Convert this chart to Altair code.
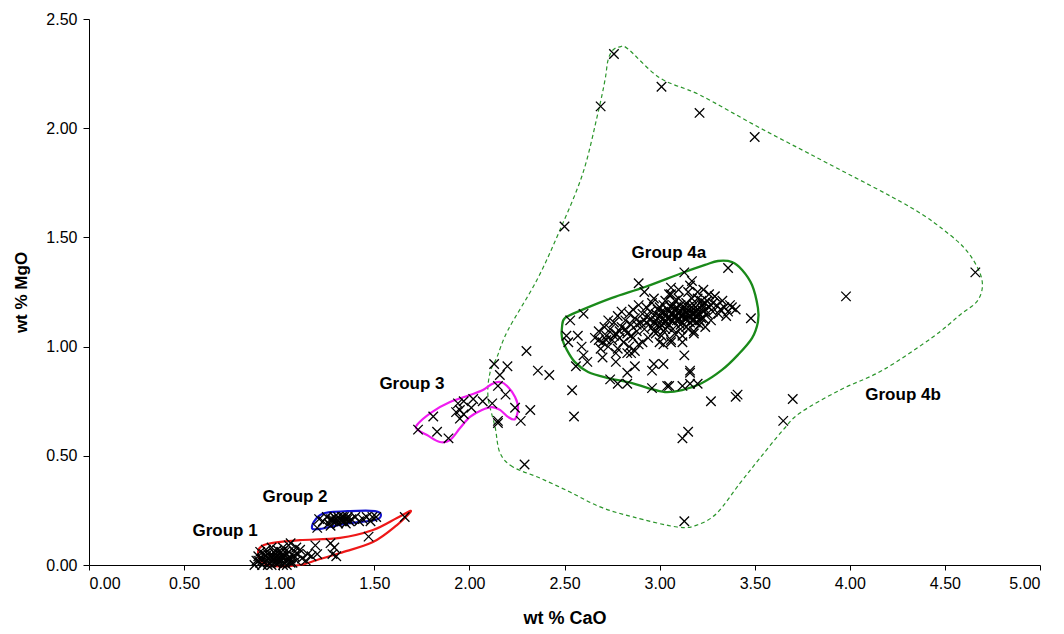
import altair as alt
import pandas as pd

# ---- measured points (wt % CaO, wt % MgO) ----
group1_pts = [
    (0.87, 0.00), (0.88, 0.02), (0.89, 0.04), (0.90, 0.01), (0.91, 0.03), (0.92, 0.05),
    (0.93, 0.02), (0.94, 0.00), (0.95, 0.04), (0.96, 0.02), (0.97, 0.06), (0.98, 0.01),
    (0.99, 0.03), (1.00, 0.05), (1.01, 0.02), (1.02, 0.00), (1.03, 0.04), (1.04, 0.02),
    (1.05, 0.06), (1.06, 0.03), (1.07, 0.01), (1.08, 0.04), (1.09, 0.02), (1.10, 0.05),
    (0.90, 0.06), (0.93, 0.07), (0.96, 0.08), (0.99, 0.07), (1.02, 0.08), (1.05, 0.09),
    (0.94, 0.03), (0.97, 0.03), (1.00, 0.01), (1.03, 0.02), (0.92, 0.01), (0.95, 0.01),
    (0.98, 0.05), (1.01, 0.06), (1.04, 0.05), (1.12, 0.03), (1.15, 0.05), (1.06, 0.10),
    (1.11, 0.07), (1.14, 0.02), (1.17, 0.04), (1.19, 0.09), (1.20, 0.05), (1.27, 0.10),
    (1.29, 0.08), (1.28, 0.05), (1.30, 0.04), (1.47, 0.13), (1.66, 0.22), (1.09, 0.08),
    (0.91, 0.00), (0.94, 0.05), (0.97, 0.04), (1.00, 0.03), (1.03, 0.06), (1.06, 0.01),
    (0.96, 0.00), (0.99, 0.01), (1.02, 0.04), (1.05, 0.03), (0.93, 0.04), (1.08, 0.06),
    (0.89, 0.02), (0.98, 0.03), (1.01, 0.04), (1.04, 0.00),
]
group2_pts = [
    (1.20, 0.17), (1.21, 0.21), (1.23, 0.20), (1.25, 0.22), (1.26, 0.19), (1.27, 0.21),
    (1.28, 0.20), (1.29, 0.22), (1.30, 0.21), (1.31, 0.19), (1.32, 0.21), (1.33, 0.22),
    (1.34, 0.20), (1.35, 0.21), (1.36, 0.22), (1.37, 0.20), (1.38, 0.21), (1.30, 0.20),
    (1.33, 0.20), (1.35, 0.19), (1.31, 0.22), (1.28, 0.21), (1.40, 0.22), (1.42, 0.20),
    (1.44, 0.21), (1.46, 0.22), (1.48, 0.20), (1.49, 0.22), (1.51, 0.22), (1.27, 0.18),
    (1.36, 0.21), (1.34, 0.22),
]
group3_pts = [
    (1.73, 0.62), (1.81, 0.68), (1.83, 0.61), (1.89, 0.58), (1.94, 0.74), (1.95, 0.71),
    (1.97, 0.75), (1.95, 0.67), (2.02, 0.76), (2.01, 0.72), (1.97, 0.69), (1.93, 0.70),
    (2.07, 0.75), (2.12, 0.74), (2.15, 0.82), (2.19, 0.78), (2.24, 0.72), (2.27, 0.66),
    (2.15, 0.66), (2.32, 0.71),
]
group4a_pts = [
    (3.36, 1.36), (3.13, 1.34), (3.17, 1.30), (3.16, 1.28), (2.89, 1.29), (2.92, 1.25),
    (3.06, 1.27), (3.06, 1.24), (3.23, 1.26), (3.29, 1.23), (3.37, 1.19), (3.48, 1.13),
    (2.53, 1.12), (2.60, 1.15), (2.51, 1.05), (2.57, 1.05), (2.52, 1.02), (2.59, 1.00),
    (2.60, 0.96), (2.62, 0.93), (2.56, 0.91), (2.70, 0.95), (2.68, 1.03), (2.77, 0.97),
    (2.77, 0.93), (2.85, 0.97), (2.83, 0.88), (2.87, 0.91), (2.97, 0.92), (2.96, 0.89),
    (3.02, 0.92), (3.16, 0.89), (3.13, 0.96), (3.18, 1.06), (3.06, 1.02), (3.12, 1.02),
    (3.02, 1.01), (2.74, 0.85), (2.78, 0.83), (2.83, 0.83), (2.96, 0.81), (3.04, 0.82),
    (3.05, 0.82), (3.12, 0.82), (3.16, 0.83), (3.20, 0.83), (3.16, 0.88),
    (2.66, 1.04), (2.68, 1.07), (2.70, 1.02), (2.71, 1.09), (2.72, 1.05), (2.73, 1.00),
    (2.74, 1.08), (2.75, 1.03), (2.76, 1.11), (2.77, 1.06), (2.78, 0.99), (2.79, 1.04),
    (2.80, 1.09), (2.81, 1.02), (2.82, 1.12), (2.83, 1.06), (2.84, 1.00), (2.85, 1.10),
    (2.86, 1.04), (2.87, 1.13), (2.88, 1.07), (2.89, 1.01), (2.90, 1.11), (2.69, 0.99),
    (2.73, 1.12), (2.78, 1.14), (2.83, 0.97), (2.87, 0.98),
    (2.91, 1.15), (2.92, 1.08), (2.93, 1.18), (2.94, 1.04), (2.95, 1.12), (2.96, 1.20),
    (2.97, 1.07), (2.98, 1.15), (2.99, 1.10), (3.00, 1.18), (3.01, 1.05), (3.02, 1.13),
    (3.03, 1.21), (3.04, 1.09), (3.05, 1.16), (3.06, 1.12), (3.07, 1.19), (3.08, 1.06),
    (3.09, 1.14), (3.10, 1.22), (3.11, 1.10), (3.12, 1.17), (3.13, 1.13), (3.14, 1.20),
    (3.15, 1.08), (3.16, 1.16), (3.17, 1.12), (3.18, 1.19), (3.19, 1.14), (3.20, 1.22),
    (3.21, 1.10), (3.22, 1.17), (3.23, 1.13), (3.24, 1.20), (3.25, 1.15), (3.26, 1.18),
    (3.27, 1.12), (3.28, 1.16), (3.30, 1.19), (3.32, 1.17), (3.34, 1.18), (3.36, 1.16),
    (3.38, 1.18), (3.40, 1.17), (3.33, 1.21), (3.29, 1.23),
    (2.95, 1.16), (2.97, 1.22), (2.99, 1.13), (3.00, 1.09), (3.01, 1.16), (3.02, 1.07),
    (3.03, 1.11), (3.04, 1.17), (3.05, 1.10), (3.06, 1.15), (3.07, 1.08), (3.08, 1.17),
    (3.09, 1.12), (3.10, 1.16), (3.11, 1.14), (3.12, 1.11), (3.13, 1.18), (3.14, 1.13),
    (3.15, 1.15), (3.16, 1.11), (3.17, 1.18), (3.18, 1.15), (3.19, 1.11), (3.20, 1.17),
    (3.21, 1.15), (3.22, 1.13), (3.05, 1.24), (3.10, 1.26), (3.15, 1.25), (3.20, 1.25),
    (3.12, 1.05), (3.18, 1.07), (3.24, 1.09), (3.00, 1.02), (3.06, 1.03), (2.93, 1.11),
    (2.96, 1.09), (3.25, 1.21), (3.27, 1.19), (3.23, 1.16), (3.14, 1.09), (3.08, 1.21),
    (3.02, 1.19), (2.98, 1.06), (2.91, 1.02), (3.11, 1.19), (3.17, 1.22), (3.22, 1.21),
    (3.26, 1.24), (3.31, 1.15), (3.35, 1.14), (2.86, 1.17), (2.89, 1.19), (2.84, 1.15),
    (2.80, 1.16),
    (2.98, 1.12), (3.00, 1.14), (3.02, 1.16), (3.04, 1.13), (3.06, 1.18), (3.08, 1.14),
    (3.10, 1.12), (3.12, 1.14), (3.14, 1.16), (3.16, 1.14), (3.18, 1.12), (3.20, 1.14),
    (3.22, 1.19), (3.24, 1.17), (3.01, 1.10), (3.03, 1.15), (3.05, 1.13), (3.07, 1.15),
    (3.09, 1.18), (3.11, 1.16), (3.13, 1.15), (3.15, 1.18), (3.17, 1.15), (3.19, 1.18),
    (3.21, 1.12), (2.94, 1.14), (2.92, 1.12), (2.97, 1.11), (2.99, 1.17), (3.03, 1.08),
    (3.07, 1.12), (3.11, 1.08), (3.15, 1.12), (3.19, 1.16), (3.23, 1.19), (3.28, 1.20),
    (2.82, 1.08), (2.85, 1.05), (2.88, 1.10), (2.79, 1.07), (2.76, 1.05), (2.72, 1.03),
]
group4b_pts = [
    (2.76, 2.34), (2.69, 2.10), (3.01, 2.19), (3.21, 2.07), (3.50, 1.96), (2.50, 1.55),
    (4.66, 1.34), (3.98, 1.23), (3.70, 0.76), (3.65, 0.66), (3.41, 0.78), (3.40, 0.77),
    (3.27, 0.75), (3.12, 0.58), (3.15, 0.61), (3.13, 0.20), (2.30, 0.98), (2.13, 0.92),
    (2.20, 0.91), (2.16, 0.87), (2.36, 0.89), (2.42, 0.87), (2.54, 0.80), (2.55, 0.68),
    (2.29, 0.46), (2.15, 0.65),
]

# ---- group envelopes (outline vertices, closed) ----
env_group1 = [
    (0.889, 0.060), (0.910, 0.014), (0.978, -0.005), (1.109, 0.000), (1.199, 0.023),
    (1.320, 0.055), (1.493, 0.105), (1.619, 0.183), (1.693, 0.247), (1.619, 0.215),
    (1.493, 0.160), (1.320, 0.124), (1.109, 0.114), (0.967, 0.101), (0.910, 0.087),
]
env_group2 = [
    (1.172, 0.169), (1.193, 0.211), (1.241, 0.238), (1.372, 0.247), (1.504, 0.247),
    (1.535, 0.229), (1.504, 0.206), (1.346, 0.188), (1.214, 0.165),
]
env_group3 = [
    (1.724, 0.641), (1.803, 0.700), (1.898, 0.746), (2.003, 0.778), (2.071, 0.801),
    (2.119, 0.829), (2.161, 0.838), (2.198, 0.820), (2.240, 0.769), (2.256, 0.719),
    (2.240, 0.668), (2.203, 0.678), (2.161, 0.710), (2.119, 0.723), (2.066, 0.710),
    (2.003, 0.678), (1.951, 0.627), (1.898, 0.572), (1.845, 0.563), (1.777, 0.595),
    (1.730, 0.618),
]
env_group4a = [
    (2.487, 1.090), (2.503, 1.131), (2.592, 1.168), (2.750, 1.223), (2.923, 1.273),
    (3.118, 1.337), (3.239, 1.374), (3.307, 1.392), (3.381, 1.387), (3.434, 1.351),
    (3.486, 1.282), (3.517, 1.177), (3.517, 1.113), (3.486, 1.039), (3.412, 0.962),
    (3.328, 0.893), (3.223, 0.833), (3.118, 0.801), (3.028, 0.792), (2.939, 0.810),
    (2.855, 0.833), (2.729, 0.856), (2.624, 0.884), (2.555, 0.929), (2.513, 0.984),
    (2.487, 1.039),
]
env_group4b = [
    (2.371, 0.398), (2.229, 0.449), (2.161, 0.513), (2.135, 0.632), (2.098, 0.769),
    (2.108, 0.879), (2.145, 0.952), (2.203, 1.076), (2.355, 1.305), (2.476, 1.534),
    (2.597, 1.795), (2.676, 2.070), (2.713, 2.221), (2.729, 2.312), (2.755, 2.358),
    (2.792, 2.372), (2.834, 2.363), (3.002, 2.230), (3.212, 2.152), (3.528, 2.001),
    (3.880, 1.841), (4.317, 1.639), (4.527, 1.511), (4.632, 1.419), (4.695, 1.305),
    (4.674, 1.213), (4.579, 1.145), (4.437, 1.044), (4.175, 0.893), (3.948, 0.801),
    (3.738, 0.696), (3.649, 0.618), (3.528, 0.490), (3.423, 0.375), (3.302, 0.238),
    (3.197, 0.183), (3.092, 0.174), (2.860, 0.220), (2.687, 0.266), (2.529, 0.334),
]

label_text = ["Group 1", "Group 2", "Group 3", "Group 4a", "Group 4b"]
label_x = [0.715, 1.083, 1.698, 3.049, 4.280]
label_y = [0.156, 0.311, 0.829, 1.429, 0.778]

x_ticks = [0, 0.5, 1, 1.5, 2, 2.5, 3, 3.5, 4, 4.5, 5]
y_ticks = [0, 0.5, 1, 1.5, 2, 2.5]

FONT = "Liberation Sans"

all_pts = group1_pts + group2_pts + group3_pts + group4a_pts + group4b_pts
pts_df = pd.DataFrame(all_pts, columns=["CaO", "MgO"])

xscale = alt.Scale(domain=[0, 5], nice=False, zero=False)
yscale = alt.Scale(domain=[0, 2.5], nice=False, zero=False)

x_axis = alt.Axis(values=x_ticks, format=".2f", grid=False, title="wt % CaO",
                  domainColor="black", tickColor="black", labelColor="black",
                  titleColor="black", labelFont=FONT, titleFont=FONT,
                  labelFontSize=16, titleFontSize=18, titleFontWeight="bold",
                  tickSize=5, labelPadding=5, titlePadding=18)
y_axis = alt.Axis(values=y_ticks, format=".2f", grid=False, title="wt % MgO",
                  domainColor="black", tickColor="black", labelColor="black",
                  titleColor="black", labelFont=FONT, titleFont=FONT,
                  labelFontSize=16, titleFontSize=17, titleFontWeight="bold",
                  tickSize=6, labelPadding=6, titlePadding=15)


def envelope(pts, color, width, dash=None):
    df = pd.DataFrame(pts, columns=["CaO", "MgO"])
    df["i"] = range(len(df))
    kw = dict(interpolate="cardinal-closed", color=color, strokeWidth=width)
    if dash:
        kw["strokeDash"] = dash
    return alt.Chart(df).mark_line(**kw).encode(
        x=alt.X("CaO:Q", scale=xscale, axis=x_axis),
        y=alt.Y("MgO:Q", scale=yscale, axis=y_axis),
        order="i:Q",
    )


env_layers = [
    envelope(env_group4b, "#2a952a", 1.2, [4, 3]),
    envelope(env_group4a, "#1a8a1a", 2.3),
    envelope(env_group3, "#f01cf0", 2.2),
    envelope(env_group2, "#1414d0", 2.2),
    envelope(env_group1, "#ee1818", 2.2),
]

points = alt.Chart(pts_df).mark_point(
    shape="M-1,-1L1,1M1,-1L-1,1", size=90, filled=False,
    stroke="black", strokeWidth=1.3, opacity=1,
).encode(
    x=alt.X("CaO:Q", scale=xscale, axis=x_axis),
    y=alt.Y("MgO:Q", scale=yscale, axis=y_axis),
)

labels_df = pd.DataFrame({"t": label_text, "CaO": label_x, "MgO": label_y})
labels = alt.Chart(labels_df).mark_text(
    font=FONT, fontSize=17, fontWeight="bold", color="black",
    align="center", baseline="middle",
).encode(
    x=alt.X("CaO:Q", scale=xscale, axis=x_axis),
    y=alt.Y("MgO:Q", scale=yscale, axis=y_axis),
    text="t:N",
)

chart = alt.layer(*env_layers, points, labels).properties(
    width=951, height=546,
    autosize=alt.AutoSizeParams(type="none"),
    padding={"left": 81, "top": 11, "right": 16, "bottom": 66},
    background="white",
).configure_view(strokeWidth=0)

chart.save("out.html", embed_options={"renderer": "svg", "actions": False})
